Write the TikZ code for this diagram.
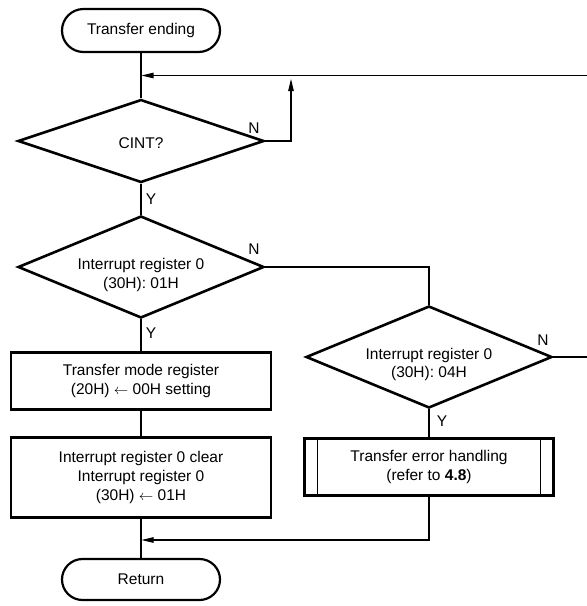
\documentclass[tikz,border=0pt]{standalone}
\usepackage{fontspec}
\setmainfont{Liberation Sans}
\usetikzlibrary{shapes.geometric,shapes.misc,arrows.meta}
\begin{document}
\begin{tikzpicture}[x=1pt,y=-1pt,
  every node/.style={font=\fontsize{15.5}{18.8}\selectfont},
  term/.style={rounded rectangle, draw, line width=2.2pt, minimum width=158pt, minimum height=43pt, inner sep=0pt},
  dia/.style={diamond, draw, line width=2.6pt, inner sep=0pt},
  proc/.style={rectangle, draw, line width=2.6pt, inner sep=0pt, align=center, minimum width=260pt},
  txt/.style={inner sep=0pt, align=center},
  lab/.style={inner sep=0pt},
  conn/.style={line width=1.1pt},
  arr/.style={-{Triangle[length=12pt,width=5.5pt]}}
]
\useasboundingbox (0,0) rectangle (587,606);

% nodes
\node[term] (te) at (141,30.5) {Transfer ending};
\node[dia, minimum width=246pt, minimum height=83pt] (d1) at (141,141) {};
\node[txt] (t1) at (141,143) {CINT?};
\node[dia, minimum width=246pt, minimum height=102pt] (d2) at (141,267) {};
\node[txt] (t2) at (141,275) {Interrupt register 0\\(30H): 01H};
\node[dia, minimum width=246pt, minimum height=102pt] (d3) at (429,357) {};
\node[txt] (t3) at (429,364.5) {Interrupt register 0\\(30H): 04H};
\node[proc, minimum height=57pt] (b1) at (141,381) {Transfer mode register\\(20H) $\leftarrow$ 00H setting};
\node[proc, minimum height=80pt] (b2) at (141,477.5) {Interrupt register 0 clear\\Interrupt register 0\\(30H) $\leftarrow$ 01H};
\node[proc, minimum width=249pt, minimum height=57pt] (b3) at (429,467) {Transfer error handling\\(refer to \textbf{4.8})};
\draw[conn] ([xshift=14pt]b3.north west) -- ([xshift=14pt]b3.south west);
\draw[conn] ([xshift=-14pt]b3.north east) -- ([xshift=-14pt]b3.south east);
\node[term, minimum height=41pt] (ret) at (141,579.5) {Return};

% labels
\node[lab] (n1) at (254,128) {N};
\node[lab] (y1) at (151,199.5) {Y};
\node[lab] (n2) at (254,249) {N};
\node[lab] (y2) at (151,333) {Y};
\node[lab] (n3) at (543,340) {N};
\node[lab] (y3) at (442,421.5) {Y};

% coordinates
\coordinate (j1) at (141.5,75.5);
\coordinate (r1) at (587,75.5);
\coordinate (c1) at (291,141);
\coordinate (c1t) at (291,79);
\coordinate (r3) at (587,357);
\coordinate (j2) at (141.5,540);

% connectors
\draw[conn] (te.south) -- (d1.north);
\draw[conn,arr] (r1) -- (j1);
\draw[conn,arr] (d1.east) -- (c1) -- (c1t);
\draw[conn] (d1.south) -- (d2.north);
\draw[conn] (d2.east) -| (d3.north);
\draw[conn] (d3.east) -- (r3);
\draw[conn] (d2.south) -- (b1.north);
\draw[conn] (b1.south) -- (b2.north);
\draw[conn] (b2.south) -- (ret.north);
\draw[conn] (d3.south) -- (b3.north);
\draw[conn,arr] (b3.south) |- (j2);
\end{tikzpicture}
\end{document}
